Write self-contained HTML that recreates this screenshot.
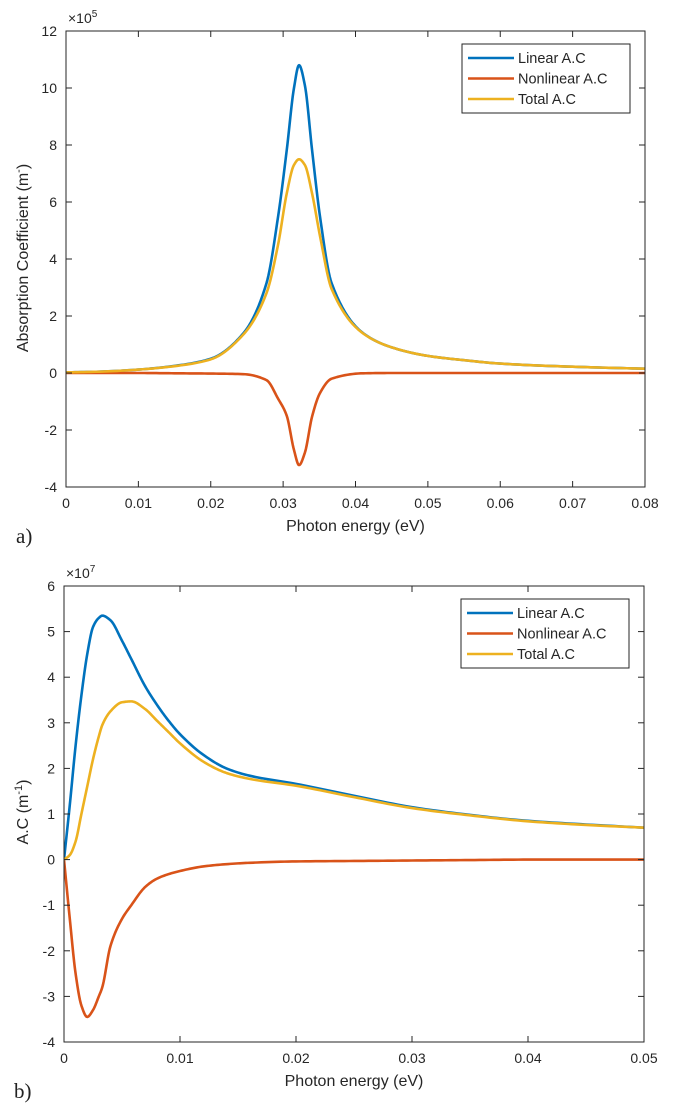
<!DOCTYPE html>
<html><head><meta charset="utf-8"><style>
body{margin:0;background:#fff;}
svg{display:block;font-family:"Liberation Sans",sans-serif;}
</style></head><body>
<svg id="fig" width="677" height="1109" viewBox="0 0 677 1109"></svg>
<script>
// ---- Chart a data (x in eV, y in 1e5 m^-1)
const aX = [0,0.005,0.01,0.015,0.02,0.0245,0.0277,0.0293,0.0305,0.0315,0.0322,0.0330,0.0340,0.0351,0.0367,0.0411,0.045,0.05,0.055,0.06,0.07,0.08];
const aLinear = [0.02,0.05,0.12,0.25,0.5,1.39,3.15,5.48,7.82,10.0,10.8,10.1,7.82,5.48,3.15,1.39,0.9,0.6,0.45,0.33,0.22,0.15];
const aNonlinear = [0,0,0,-0.01,-0.02,-0.04,-0.25,-0.9,-1.5,-2.7,-3.23,-2.8,-1.53,-0.7,-0.2,-0.01,0,0,0,0,0,0];
const aTotal = [0.02,0.05,0.12,0.24,0.48,1.35,2.8,4.5,6.3,7.3,7.5,7.3,6.3,4.8,2.95,1.38,0.9,0.6,0.45,0.33,0.22,0.15];
const aXTicks = [0,0.01,0.02,0.03,0.04,0.05,0.06,0.07,0.08];
const aYTicks = [-4,-2,0,2,4,6,8,10,12];
// ---- Chart b data (x in eV, y in 1e7 m^-1)
const bX = [0,0.0005,0.001,0.0015,0.002,0.0025,0.003,0.0033,0.004,0.005,0.0058,0.007,0.008,0.009,0.01,0.012,0.014,0.016,0.02,0.025,0.03,0.035,0.04,0.045,0.05];
const bLinear = [0,1.2,2.5,3.6,4.5,5.1,5.3,5.35,5.25,4.8,4.4,3.8,3.4,3.05,2.75,2.3,2.0,1.84,1.66,1.4,1.15,0.98,0.85,0.77,0.7];
const bNonlinear = [0,-1.3,-2.5,-3.2,-3.45,-3.3,-3.0,-2.8,-1.9,-1.3,-1.0,-0.6,-0.42,-0.32,-0.25,-0.15,-0.1,-0.07,-0.04,-0.03,-0.02,-0.01,0,0,0];
const bTotal = [0,0.1,0.4,1.0,1.6,2.2,2.7,2.95,3.25,3.45,3.47,3.3,3.05,2.8,2.55,2.15,1.9,1.77,1.62,1.37,1.13,0.97,0.84,0.76,0.7];
const bXTicks = [0,0.01,0.02,0.03,0.04,0.05];
const bYTicks = [-4,-3,-2,-1,0,1,2,3,4,5,6];

const NS="http://www.w3.org/2000/svg";
const svg=document.getElementById('fig');
function mk(tag,attrs,parent,text){const e=document.createElementNS(NS,tag);for(const k in attrs)e.setAttribute(k,attrs[k]);if(text!==undefined)e.textContent=text;(parent||svg).appendChild(e);return e;}
const COLORS=['#0072BD','#D95319','#EDB120'];
const NAMES=['Linear A.C','Nonlinear A.C','Total A.C'];

// monotone cubic (Fritsch-Carlson) in data space, sampled densely
function path(xs,ys,sx,sy){
  const n=xs.length,d=[],m=new Array(n);
  for(let i=0;i<n-1;i++)d.push((ys[i+1]-ys[i])/(xs[i+1]-xs[i]));
  m[0]=d[0];m[n-1]=d[n-2];
  for(let i=1;i<n-1;i++){
    if(d[i-1]*d[i]<=0)m[i]=0;
    else{const h0=xs[i]-xs[i-1],h1=xs[i+1]-xs[i];const w1=2*h1+h0,w2=h1+2*h0;m[i]=(w1+w2)/(w1/d[i-1]+w2/d[i]);}
  }
  let s='M'+sx(xs[0]).toFixed(2)+','+sy(ys[0]).toFixed(2);
  for(let i=0;i<n-1;i++){
    const h=xs[i+1]-xs[i];
    for(let k=1;k<=12;k++){
      const t=k/12,t2=t*t,t3=t2*t;
      const y=(2*t3-3*t2+1)*ys[i]+(t3-2*t2+t)*h*m[i]+(-2*t3+3*t2)*ys[i+1]+(t3-t2)*h*m[i+1];
      s+=' L'+sx(xs[i]+t*h).toFixed(2)+','+sy(y).toFixed(2);
    }
  }
  return s;
}

function chart(o){
  const g=mk('g',{});
  
  
  const {L,R,T,B,xmin,xmax,ymin,ymax}=o;
  const sx=v=>L+(v-xmin)/(xmax-xmin)*(R-L);
  const sy=v=>B-(v-ymin)/(ymax-ymin)*(B-T);
  const clip='clip-'+o.name;
  const defs=mk('defs',{},g);const cp=mk('clipPath',{id:clip},defs);mk('rect',{x:L,y:T,width:R-L,height:B-T},cp);
  [o.s1,o.s2,o.s3].forEach((ys,i)=>{
    const pe=mk('path',{d:path(o.xs,ys,sx,sy),fill:'none',stroke:COLORS[i],'stroke-width':2.6,'stroke-linejoin':'round','clip-path':'url(#'+clip+')'},g);
    
    
  });
  const box=mk('rect',{x:L,y:T,width:R-L,height:B-T,fill:'none',stroke:'#262626','stroke-width':1},g);
  
  
  o.xt.forEach(v=>{
    const x=sx(v);
    mk('line',{x1:x,x2:x,y1:B,y2:B-6,stroke:'#262626'},g);
    mk('line',{x1:x,x2:x,y1:T,y2:T+6,stroke:'#262626'},g);
    const t=mk('text',{x:x,y:B+21,'text-anchor':'middle','font-size':14,fill:'#262626'},g,String(v));
    
    
  });
  o.yt.forEach(v=>{
    const y=sy(v);
    mk('line',{x1:L,x2:L+6,y1:y,y2:y,stroke:'#262626'},g);
    mk('line',{x1:R,x2:R-6,y1:y,y2:y,stroke:'#262626'},g);
    const t=mk('text',{x:L-9,y:y+5,'text-anchor':'end','font-size':14,fill:'#262626'},g,String(v));
    
    
  });
  const ex=mk('text',{x:L+2,y:T-8,'font-size':14,fill:'#262626'},g);
  
  
  mk('tspan',{},ex,'×10');mk('tspan',{dy:-6,'font-size':10},ex,o.exp);
  const xl=mk('text',{x:(L+R)/2,y:B+44,'text-anchor':'middle','font-size':16,fill:'#262626'},g,'Photon energy (eV)');
  
  
  const yl=mk('text',{x:0,y:0,'text-anchor':'middle','font-size':16,fill:'#262626',transform:'translate('+o.ylx+','+o.yly+') rotate(-90)'},g);
  
  
  mk('tspan',{},yl,o.ylab+' (m');mk('tspan',{dy:-6,'font-size':11},yl,o.sup);mk('tspan',{dy:6},yl,')');
  const pl=mk('text',{x:o.plx,y:o.ply,'font-size':21,'font-family':'Liberation Serif, serif',fill:'#222'},g,o.panel);
  
  
  const lg=mk('g',{},g);
  
  
  mk('rect',{x:o.lx,y:o.ly,width:168,height:69,fill:'#fff',stroke:'#262626','stroke-width':1},lg);
  NAMES.forEach((n,i)=>{
    const y=o.ly+14+i*20.5;
    const ln=mk('line',{x1:o.lx+6,x2:o.lx+52,y1:y,y2:y,stroke:COLORS[i],'stroke-width':2.6},lg);
    
    
    const t=mk('text',{x:o.lx+56,y:y+5,'font-size':14.5,fill:'#262626'},lg,n);
    
    
  });
}

chart({name:'chart-a',L:66,R:645,T:31,B:487,xmin:0,xmax:0.08,ymin:-4,ymax:12,xs:aX,s1:aLinear,s2:aNonlinear,s3:aTotal,xt:aXTicks,yt:aYTicks,exp:'5',ylab:'Absorption Coefficient',sup:'-',ylx:28,yly:258,plx:16,ply:543,panel:'a)',lx:462,ly:44});
chart({name:'chart-b',L:64,R:644,T:586,B:1042,xmin:0,xmax:0.05,ymin:-4,ymax:6,xs:bX,s1:bLinear,s2:bNonlinear,s3:bTotal,xt:bXTicks,yt:bYTicks,exp:'7',ylab:'A.C',sup:'-1',ylx:28,yly:812,plx:14,ply:1098,panel:'b)',lx:461,ly:599});
</script>
</body></html>
